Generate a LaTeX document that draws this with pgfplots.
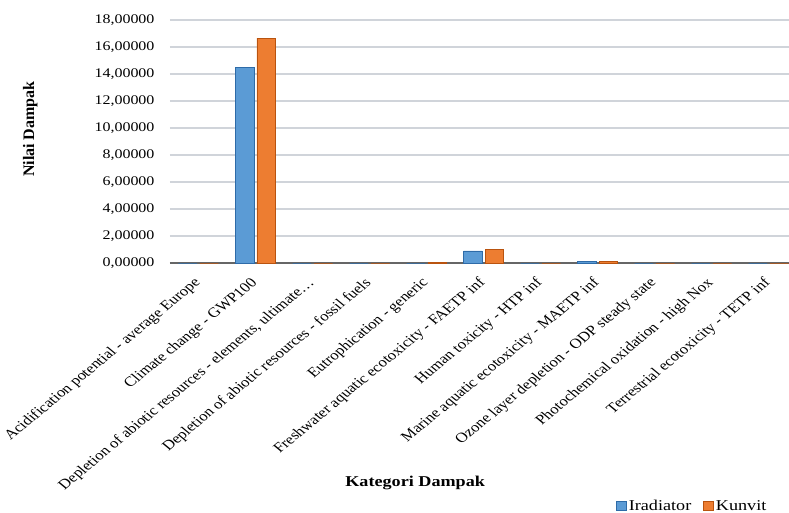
\documentclass[border=0pt]{standalone}
\usepackage{pgfplots}
\pgfplotsset{compat=1.18}
\usepackage{fontspec}
\setmainfont{Liberation Serif}[FakeStretch=1.21]
\newfontfamily\plainserif{Liberation Serif}
\definecolor{iradfill}{HTML}{5B9BD5}
\definecolor{iradlight}{HTML}{7FB2E5}
\definecolor{iradedge}{HTML}{2E6BA8}
\definecolor{kunfill}{HTML}{ED7D31}
\definecolor{kunlight}{HTML}{F4975A}
\definecolor{kunedge}{HTML}{B9530F}
\definecolor{gridc}{HTML}{D0D4DA}
\begin{document}
\begin{tikzpicture}[font=\fontsize{13.2}{15}\selectfont]
\path[use as bounding box] (-170pt,-249pt) rectangle (619pt,263pt);
\begin{axis}[
  scale only axis,
  width=627pt, height=243pt,
  ybar=3pt, bar width=18.5pt,
  xmin=-0.5, xmax=10.5,
  ymin=0, ymax=18,
  ytick={0,2,...,18},
  xtick={0,...,10},
  xticklabels={
    Acidification potential - average Europe,
    Climate change - GWP100,
    {Depletion of abiotic resources - elements, ultimate…},
    Depletion of abiotic resources - fossil fuels,
    Eutrophication - generic,
    Freshwater aquatic ecotoxicity - FAETP inf,
    Human toxicity - HTP inf,
    Marine aquatic ecotoxicity - MAETP inf,
    Ozone layer depletion - ODP steady state,
    Photochemical oxidation - high Nox,
    Terrestrial ecotoxicity - TETP inf},
  xticklabel style={xshift=-6pt, yshift=-12pt, xscale=1.21, rotate=45, anchor=north east, inner sep=1pt,
    font=\plainserif\fontsize{13.8}{16}\selectfont},
  yticklabel style={font=\fontsize{13.2}{15}\selectfont, xshift=-12pt},
  /pgf/number format/.cd, fixed, fixed zerofill, precision=5, use comma, 1000 sep={}, assume math mode=true,
  /pgfplots/.cd,
  major tick length=0pt,
  axis line style={draw=none},
  ymajorgrids,
  grid style={gridc, line width=1.3pt},
  extra y ticks={0},
  extra y tick style={grid style={gray!80!black, line width=1.3pt}},
  extra y tick labels={},
  xlabel={\textbf{Kategori Dampak}},
  xlabel style={at={(rel axis cs:0.391,-0.905)}, anchor=center, font=\fontsize{15}{17}\selectfont},
  ylabel={\textbf{Nilai Dampak}},
  ylabel style={at={(rel axis cs:-0.223,0.551)}, anchor=center, font=\plainserif\fontsize{16}{18}\selectfont},
  legend columns=2,
  legend style={draw=none, fill=none, at={(rel axis cs:0.833,-1.0)}, anchor=center,
    font=\fontsize{15}{17}\selectfont, /tikz/every even column/.append style={column sep=10pt}},
  legend image code/.code={\draw[#1, line width=0.6pt] (0pt,-4.5pt) rectangle (10pt,4.5pt);},
]
\addplot[left color=iradfill, middle color=iradlight, right color=iradfill, draw=iradedge, line width=0.8pt] coordinates {
  (0,0) (1,14.47) (2,0) (3,0) (4,0) (5,0.89) (6,0) (7,0.12) (8,0) (9,0) (10,0)};
\addplot[left color=kunfill, middle color=kunlight, right color=kunfill, draw=kunedge, line width=0.8pt] coordinates {
  (0,0) (1,16.65) (2,0) (3,0) (4,0.04) (5,1.02) (6,0) (7,0.12) (8,0) (9,0) (10,0)};
\legend{Iradiator, Kunvit}
\end{axis}
\end{tikzpicture}
\end{document}
